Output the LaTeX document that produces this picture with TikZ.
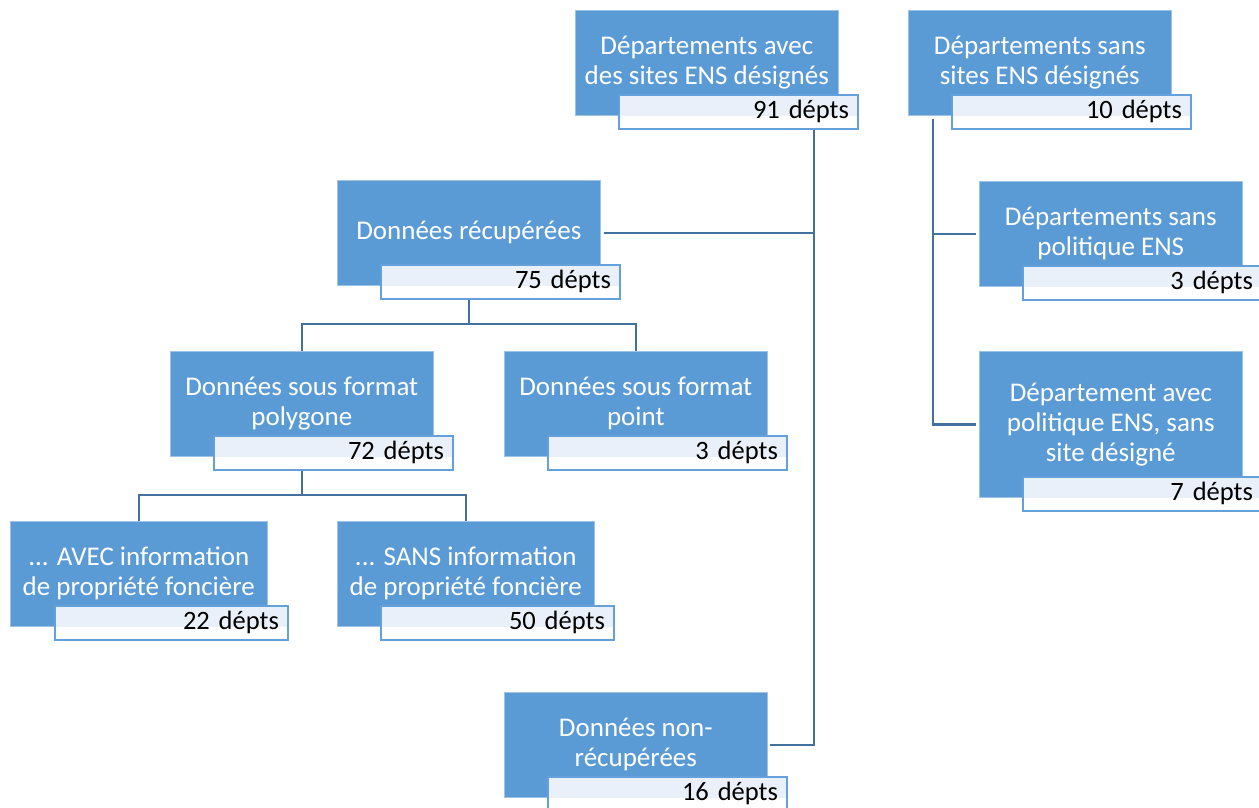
\documentclass[tikz,border=0pt]{standalone}
\usepackage{fontspec}
\setmainfont{Carlito}
\usetikzlibrary{calc}
\definecolor{boxblue}{RGB}{91,155,213}
\definecolor{connblue}{RGB}{65,113,156}
\definecolor{lblborder}{RGB}{100,160,218}
\definecolor{lbltop}{RGB}{234,240,249}
\tikzset{
  mainbox/.style={fill=boxblue, draw=boxblue!60!white, line width=0.6pt, text=white,
    minimum width=263pt, minimum height=105pt, anchor=north west, align=center,
    inner sep=2pt, font=\fontsize{27}{30}\selectfont},
  lblbox/.style={draw=lblborder, line width=1.8pt, fill=white,
    path picture={\fill[lbltop] (path picture bounding box.north west) rectangle ([yshift=13pt]path picture bounding box.south east);},
    minimum height=34pt, inner xsep=9pt, inner ysep=0pt, text width=221pt, align=right,
    anchor=north west, text=black, font=\fontsize{26.5}{30}\selectfont},
  conn/.style={draw=connblue, line width=2.5pt}
}
\begin{document}
\begin{tikzpicture}[x=1pt,y=1pt]
\useasboundingbox (0,0) rectangle (1259,-807);
% boxes
\node[mainbox] (a) at (575,-10) {Départements avec\\des sites ENS désignés};
\node[lblbox] (al) at (618,-94) {91 dépts};
\node[mainbox] (b) at (908,-10) {Départements sans\\sites ENS désignés};
\node[lblbox] (bl) at (951,-94) {10 dépts};
\node[mainbox] (rec) at (337,-180) {Données récupérées};
\node[lblbox] (recl) at (380,-264) {75 dépts};
\node[mainbox] (poly) at (170,-351) {Données sous format\\polygone};
\node[lblbox] (polyl) at (213,-435) {72 dépts};
\node[mainbox] (pt) at (504,-351) {Données sous format\\point};
\node[lblbox] (ptl) at (547,-435) {3 dépts};
\node[mainbox, minimum width=257pt] (avec) at (10,-521) {... AVEC information\\de propriété foncière};
\node[lblbox, text width=215pt] (avecl) at (54,-605) {22 dépts};
\node[mainbox, minimum width=257pt] (sans) at (337,-521) {... SANS information\\de propriété foncière};
\node[lblbox, text width=215pt] (sansl) at (380,-605) {50 dépts};
\node[mainbox] (nonrec) at (504,-692) {Données non-\\récupérées};
\node[lblbox] (nonrecl) at (547,-776) {16 dépts};
\node[mainbox] (sp) at (979,-181) {Départements sans\\politique ENS};
\node[lblbox] (spl) at (1022,-265) {3 dépts};
\node[mainbox, minimum height=146pt] (pol) at (979,-351) {Département avec\\politique ENS, sans\\site désigné};
\node[lblbox] (poll) at (1022,-476) {7 dépts};
% connectors
\coordinate (trA) at ([xshift=-45pt]al.south east);
\draw[conn] (trA) |- ([xshift=3pt]rec.east);
\draw[conn] (trA) |- ([xshift=2pt]nonrec.east);
\coordinate (trB) at ([xshift=25pt,yshift=-3pt]b.south west);
\draw[conn] (trB) |- ([xshift=-3pt]sp.west);
\draw[conn] (trB) |- ([xshift=-3pt]pol.west);
\coordinate (jR) at ([yshift=-24pt]rec.south |- recl.south);
\draw[conn] (rec.south |- recl.south) -- (jR) -| (poly.north);
\draw[conn] (jR) -| (pt.north);
\coordinate (jP) at ([yshift=-24pt]poly.south |- polyl.south);
\draw[conn] (poly.south |- polyl.south) -- (jP) -| (avec.north);
\draw[conn] (jP) -| (sans.north);
\end{tikzpicture}
\end{document}
